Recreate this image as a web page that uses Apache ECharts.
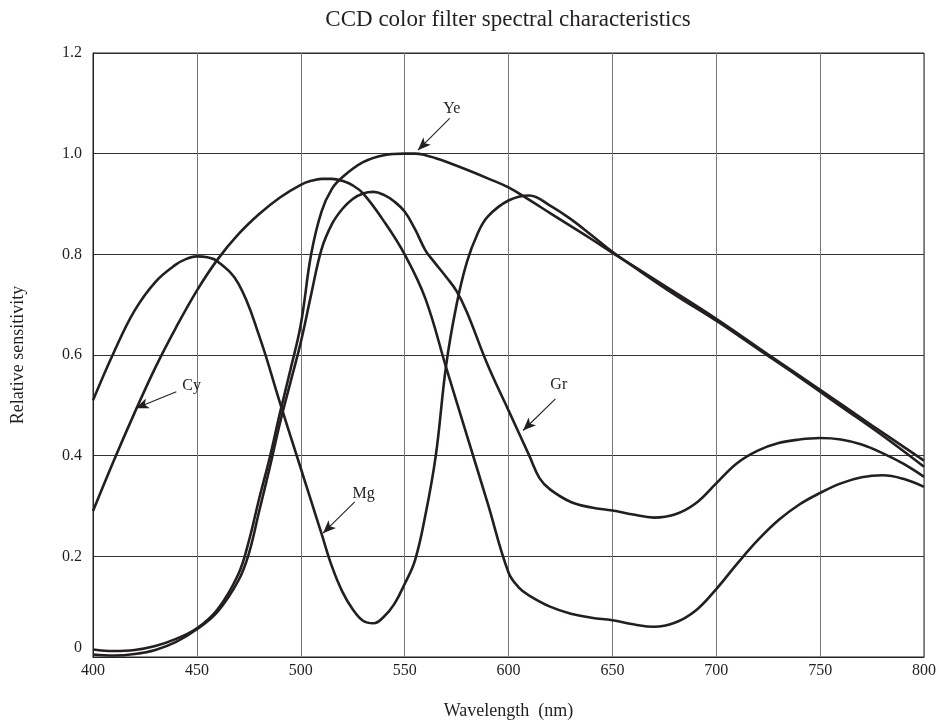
<!DOCTYPE html>
<html>
<head>
<meta charset="utf-8">
<script src="https://cdn.jsdelivr.net/npm/echarts@6/dist/echarts.min.js"></script>
<style>html,body{margin:0;padding:0;background:#fff}#c{width:939px;height:724px}</style>
</head>
<body>
<div id="c"></div>
<script>
// Wavelength (nm) and relative sensitivity per filter
var cyX = [400,410,420,430,440,450,460,470,480,490,500,505,510,515,520,525,530,540,550,560,570,580,590,600,605,610,620,630,640,650,660,670,680,690,700,710,720,730,740,750,760,770,780,790,800];
var cyY = [0.29,0.39,0.485,0.575,0.655,0.728,0.79,0.84,0.88,0.913,0.938,0.946,0.95,0.95,0.946,0.937,0.921,0.866,0.8,0.712,0.575,0.44,0.305,0.168,0.138,0.122,0.1,0.086,0.078,0.073,0.065,0.06,0.068,0.092,0.135,0.185,0.232,0.272,0.303,0.326,0.345,0.357,0.361,0.354,0.338];

var mgX = [400,410,420,430,440,445,450,455,460,470,480,490,500,505,510,515,520,525,530,535,540,545,550,555,560,565,570,575,580,585,590,600,610,620,630,640,650,660,680,700,720,740,760,780,800];
var mgY = [0.51,0.605,0.688,0.745,0.78,0.791,0.796,0.794,0.786,0.742,0.638,0.505,0.375,0.31,0.245,0.18,0.13,0.095,0.072,0.067,0.08,0.105,0.145,0.192,0.282,0.4,0.58,0.7,0.785,0.84,0.875,0.907,0.917,0.897,0.87,0.838,0.805,0.776,0.72,0.668,0.612,0.556,0.498,0.44,0.378];

var yeX = [400,410,420,430,440,450,460,470,475,480,485,490,495,500,505,510,515,520,530,540,550,555,560,565,570,580,590,600,610,620,630,640,650,675,700,725,750,775,800];
var yeY = [0.015,0.012,0.014,0.022,0.036,0.057,0.095,0.165,0.23,0.315,0.395,0.485,0.57,0.66,0.8,0.885,0.93,0.953,0.983,0.997,1.0,1.0,0.997,0.991,0.984,0.968,0.951,0.933,0.908,0.882,0.856,0.83,0.803,0.738,0.672,0.601,0.531,0.46,0.39];

var grX = [400,410,420,430,440,450,460,470,475,480,485,490,495,500,505,510,515,520,525,530,535,540,545,550,555,560,564,570,575,580,590,600,610,615,620,630,640,650,660,670,680,690,700,710,720,730,740,750,760,770,780,790,800];
var grY = [0.005,0.003,0.006,0.014,0.03,0.055,0.09,0.152,0.205,0.29,0.375,0.465,0.545,0.625,0.72,0.81,0.86,0.89,0.91,0.921,0.924,0.918,0.905,0.885,0.85,0.808,0.786,0.755,0.727,0.685,0.58,0.49,0.4,0.355,0.333,0.308,0.297,0.291,0.283,0.277,0.283,0.305,0.345,0.385,0.41,0.425,0.432,0.435,0.432,0.422,0.405,0.384,0.358];

var xTicks = [400,450,500,550,600,650,700,750,800];
var yTicks = [0,0.2,0.4,0.6,0.8,1.0,1.2];

// Annotation labels: [name, labelX, labelY, arrowStartX, arrowStartY, arrowTipX, arrowTipY]
var notes = [
  ['Ye', 572.7, 1.09, 571.7, 1.07, 556.4, 1.007],
  ['Cy', 447.5, 0.538, 440.1, 0.527, 420.6, 0.494],
  ['Mg', 530.3, 0.325, 526.0, 0.308, 510.7, 0.246],
  ['Gr', 624.2, 0.54, 622.6, 0.513, 607.0, 0.45]
];

var FONT = 'Liberation Serif';
var INK = '#231f20';

function zip(xs, ys){ return xs.map(function(x,i){ return [x, ys[i]]; }); }

var series = [
  {name:'Cy', data: zip(cyX, cyY)},
  {name:'Mg', data: zip(mgX, mgY)},
  {name:'Ye', data: zip(yeX, yeY)},
  {name:'Gr', data: zip(grX, grY)}
].map(function(s){
  return {
    name: s.name, type: 'line', data: s.data, smooth: 0.4, showSymbol: false,
    lineStyle: {color: INK, width: 2.6}, animation: false, z: 3
  };
});

// annotation series (arrows + labels) placed in data coordinates
series.push({
  type: 'line', data: [], silent: true, animation: false,
  markLine: {
    silent: true, animation: false,
    symbol: ['none', 'arrow'], symbolSize: [8, 13],
    lineStyle: {color: INK, width: 1.1, type: 'solid'},
    itemStyle: {color: INK},
    label: {show: false},
    data: notes.map(function(n){ return [{coord: [n[3], n[4]]}, {coord: [n[5], n[6]]}]; })
  },
  markPoint: {
    silent: true, animation: false, symbol: 'circle', symbolSize: 0,
    label: {show: true, position: 'inside', color: INK, fontFamily: FONT, fontSize: 16,
      formatter: function(p){ return p.name; }},
    data: notes.map(function(n){ return {name: n[0], coord: [n[1], n[2]]}; })
  }
});

var chart = echarts.init(document.getElementById('c'), null, {renderer: 'canvas'});
chart.setOption({
  backgroundColor: '#fff',
  animation: false,
  title: {
    text: 'CCD color filter spectral characteristics',
    left: 503, top: 3, textAlign: 'center',
    textStyle: {fontFamily: FONT, fontSize: 23, fontWeight: 'normal', color: INK}
  },
  grid: {left: 93, right: 15, top: 53, bottom: 67, show: true, borderColor: '#222', borderWidth: 1,
    containLabel: false, outerBoundsMode: 'none'},
  xAxis: {
    type: 'value', min: xTicks[0], max: xTicks[xTicks.length-1], interval: 50,
    name: 'Wavelength  (nm)', nameLocation: 'middle', nameGap: 45,
    nameTextStyle: {fontFamily: FONT, fontSize: 18, color: INK},
    axisLine: {show: true, lineStyle: {color: '#222', width: 1}},
    axisTick: {show: false},
    axisLabel: {fontFamily: FONT, fontSize: 16, color: INK, margin: 6},
    splitLine: {show: true, lineStyle: {color: '#777', width: 1}}
  },
  yAxis: {
    type: 'value', min: yTicks[0], max: yTicks[yTicks.length-1], interval: 0.2,
    name: 'Relative sensitivity', nameLocation: 'middle', nameGap: 66, nameRotate: 90,
    nameTextStyle: {fontFamily: FONT, fontSize: 18, color: INK},
    axisLine: {show: true, lineStyle: {color: '#222', width: 1}},
    axisTick: {show: false},
    axisLabel: {fontFamily: FONT, fontSize: 16, color: INK, margin: 11,
      formatter: function(v){ return Math.abs(v) < 1e-9 ? '{z|0}' : v.toFixed(1); },
      rich: {z: {fontFamily: FONT, fontSize: 16, color: INK, padding: [0, 0, 18, 0]}}},
    splitLine: {show: true, lineStyle: {color: '#333', width: 1}}
  },
  series: series
});
</script>
</body>
</html>
